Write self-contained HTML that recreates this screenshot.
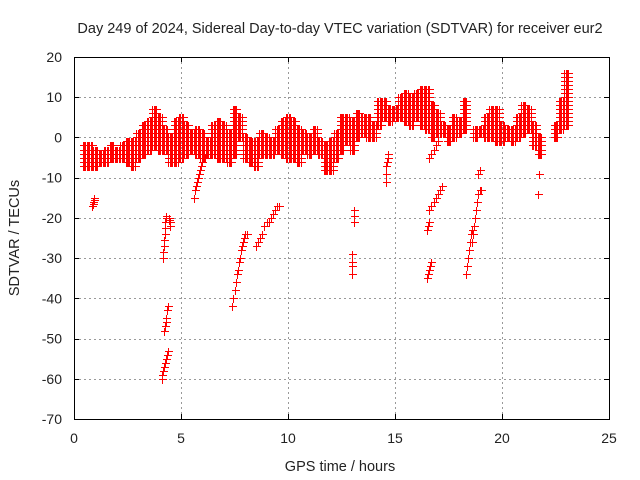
<!DOCTYPE html>
<html><head><meta charset="utf-8"><style>
html,body{margin:0;padding:0;background:#fff;}
svg{display:block;font-family:"Liberation Sans",sans-serif;}
</style></head><body>
<svg id="chart" width="640" height="480" viewBox="0 0 640 480">
<text x="340" y="33" font-size="14.5" text-anchor="middle" fill="#222">Day 249 of 2024, Sidereal Day-to-day VTEC variation (SDTVAR) for receiver eur2</text>
<g id="grid"></g>
<g id="marks"></g>
<rect x="74.5" y="57.5" width="535" height="362" fill="none" stroke="#000" stroke-width="1" shape-rendering="crispEdges"/>
<g id="ticks"></g>
<text x="340" y="471" font-size="14.5" text-anchor="middle" fill="#222">GPS time / hours</text>
<text transform="translate(19,238) rotate(-90)" font-size="14.5" text-anchor="middle" fill="#222">SDTVAR / TECUs</text>
</svg>
<script>
const xTicks=[0,5,10,15,20,25];
const yTicks=[20,10,0,-10,-20,-30,-40,-50,-60,-70];
// main band: sample times (h), upper and lower envelope (TECU)
const bandT=[0.5,0.75,1.0,1.25,1.5,1.75,2.0,2.25,2.5,2.75,3.0,3.25,3.5,3.75,4.0,4.25,4.5,4.75,5.0,5.25,5.5,5.75,6.0,6.25,6.5,6.75,7.0,7.25,7.5,7.75,8.0,8.25,8.5,8.75,9.0,9.25,9.5,9.75,10.0,10.25,10.5,10.75,11.0,11.25,11.5,11.75,12.0,12.25,12.5,12.75,13.0,13.25,13.5,13.75,14.0,14.25,14.5,14.75,15.0,15.25,15.5,15.75,16.0,16.25,16.5,16.75,17.0,17.25,17.5,17.75,18.0,18.25,18.75,19.0,19.25,19.5,19.75,20.0,20.25,20.5,20.75,21.0,21.25,21.5,21.75,22.5,22.75,23.0];
const bandHi=[-2,-2,-3,-4,-3,-2,-3,-2,-1,-1,1,3,4,7,5,2,0,4,5,3,1,2,1,-1,3,4,3,1,7,5,0,-1,-1,1,0,-1,2,4,5,4,2,1,0,2,-1,-2,-1,1,5,5,4,6,5,5,3,9,9,7,7,10,11,10,11,12,12,8,6,3,2,5,4,9,2,2,5,7,7,3,2,2,5,8,7,3,0,3,9,16];
const bandLo=[-7,-7,-7,-6,-6,-5,-5,-5,-6,-7,-5,-4,-3,-2,-3,-3,-6,-6,-5,-4,-3,-4,-5,-4,-4,-5,-5,-6,-4,0,-5,-6,-7,-4,-4,-4,-3,-4,-5,-5,-6,-3,-4,-3,-4,-8,-8,-5,-3,-1,-3,0,1,0,0,3,5,4,5,5,4,3,5,3,2,0,1,1,-1,0,1,2,0,1,0,0,-1,-1,0,-1,0,1,2,-2,-4,0,2,3];
// isolated tracks: times and values
const trackT=[0.85,0.88,0.9,0.93,0.95, 4.15,4.17,4.19,4.21,4.23,4.25,4.27,4.29,4.3, 4.42,4.45,4.48,4.5, 4.2,4.24,4.28,4.32,4.36,4.4, 4.1,4.12,4.15,4.2,4.25,4.3,4.35,4.4, 5.6,5.65,5.7,5.75,5.8,5.85,5.9,5.95,6.0,6.1,6.2, 7.4,7.45,7.5,7.55,7.6,7.65,7.7,7.75,7.8,7.85,7.9,7.95,8.0,8.1, 8.5,8.6,8.7,8.8,8.9,9.0,9.1,9.2,9.3,9.4,9.5,9.6, 13.0,13.0,13.0,13.0, 13.1,13.1,13.1, 14.6,14.6,14.6,14.62,14.65,14.68, 16.5,16.55,16.6,16.65,16.7, 16.5,16.55,16.6, 16.6,16.7,16.8,16.9,17.0,17.1,17.2, 16.6,16.7,16.8,16.9,17.0, 18.3,18.35,18.4,18.45,18.5,18.55,18.6, 18.6,18.65,18.7,18.75,18.8,18.85,18.9,18.95,19.0, 18.9,18.95, 21.7,21.75];
const trackV=[-17,-16.5,-16,-15.5,-15, -30,-28.5,-27,-25.5,-24,-22.5,-21,-20,-19.5, -20,-20.5,-21,-22, -48,-47,-46,-45,-43,-42, -60,-59,-58,-57,-56,-55,-54,-53, -15,-13,-12,-11,-10,-9,-8,-7,-6,-5,-4, -42,-40,-38,-36,-34,-33,-31,-30,-28,-27,-26,-25,-24,-24, -27,-26,-25,-24,-22,-21,-21,-20,-19,-18,-17,-17, -29,-31,-32,-34, -18,-19.5,-21, -11,-9,-7,-6,-5,-4, -35,-34,-33,-32,-31, -23,-22,-21, -18,-17,-16,-15,-14,-13,-12, -5,-4,-3,-2,-1, -34,-32,-30,-28,-26,-24,-23, -26,-24,-22,-20,-18,-16,-14,-13,-13, -9,-8, -14,-9];
const L=74,R=609,T=57,B=419,X0=0,X1=25,Y0=-70,Y1=20;
const xs=t=>L+(t-X0)/(X1-X0)*(R-L);
const ys=v=>B-(v-Y0)/(Y1-Y0)*(B-T);
const NS='http://www.w3.org/2000/svg';
const grid=document.getElementById('grid'),ticks=document.getElementById('ticks'),marks=document.getElementById('marks');
function mk(tag,attrs,parent){const e=document.createElementNS(NS,tag);for(const k in attrs)e.setAttribute(k,attrs[k]);parent.appendChild(e);return e;}
const px=v=>Math.round(v)+0.5;
xTicks.forEach(t=>{const x=px(xs(t));
 if(t>X0&&t<X1){const g=mk('line',{x1:x,x2:x,y1:T,y2:B,stroke:'#999','stroke-dasharray':'2,3','shape-rendering':'crispEdges'},grid);
 
 }
 const tk=mk('line',{x1:x,x2:x,y1:B,y2:B-5,stroke:'#000','shape-rendering':'crispEdges'},ticks);
 
 
 const tk2=mk('line',{x1:x,x2:x,y1:T,y2:T+5,stroke:'#000','shape-rendering':'crispEdges'},ticks);
 
 
 const lb=mk('text',{x:xs(t),y:B+24,'font-size':14,'text-anchor':'middle',fill:'#222'},ticks);lb.textContent=t;
 
 });
yTicks.forEach(v=>{const y=px(ys(v));
 if(v>Y0&&v<Y1){const g=mk('line',{x1:L,x2:R,y1:y,y2:y,stroke:'#999','stroke-dasharray':'2,3','shape-rendering':'crispEdges'},grid);
 
 }
 const tk=mk('line',{x1:L,x2:L+5,y1:y,y2:y,stroke:'#000','shape-rendering':'crispEdges'},ticks);
 
 
 const tk2=mk('line',{x1:R,x2:R-5,y1:y,y2:y,stroke:'#000','shape-rendering':'crispEdges'},ticks);
 
 
 const lb=mk('text',{x:L-12,y:ys(v)+5,'font-size':14,'text-anchor':'end',fill:'#222'},ticks);lb.textContent=v;
 
 });
let d='';
function plus(t,v){const x=Math.round(xs(t)),y=Math.round(ys(v));d+=`M${x-3} ${y+0.5}h8M${x+0.5} ${y-3}v8`;}
bandT.forEach((t,i)=>{const hi=bandHi[i],lo=bandLo[i];
 [t-0.09,t-0.03,t+0.03,t+0.09].forEach(tt=>{for(let v=lo;v<=hi+0.01;v+=1.0)plus(tt,v);plus(tt,hi);});});
trackT.forEach((t,i)=>plus(t,trackV[i]));
const p=mk('path',{d:d,stroke:'#ff0000','stroke-width':1.2,fill:'none','shape-rendering':'crispEdges'},marks);


</script>
</body></html>
